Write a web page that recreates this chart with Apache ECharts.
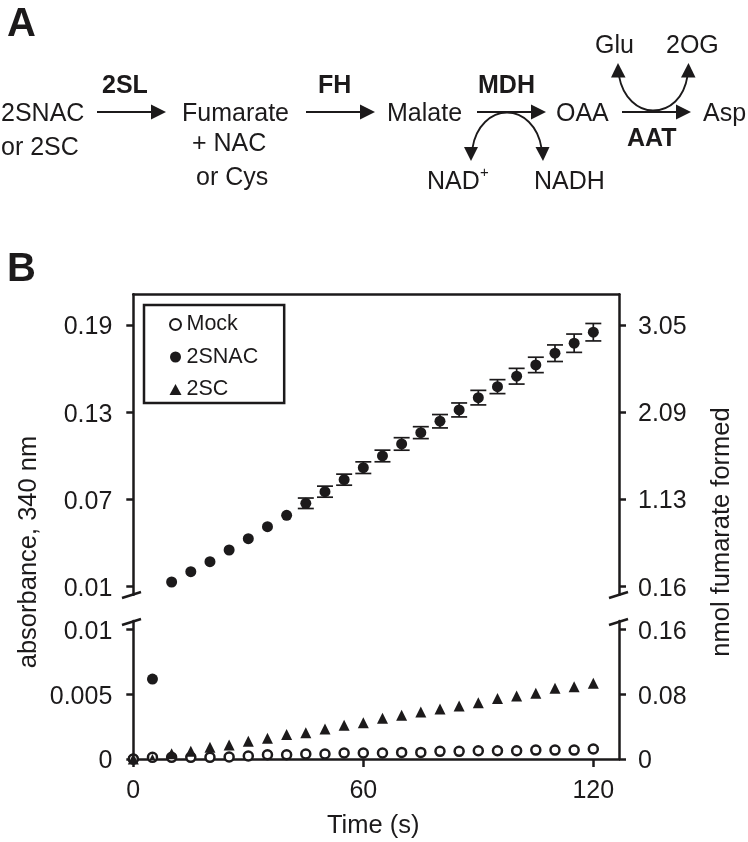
<!DOCTYPE html>
<html>
<head>
<meta charset="utf-8">
<style>
  html, body { margin: 0; padding: 0; background: #fff; }
  #chart { width: 748px; height: 842px; }
</style>
<script src="https://cdn.jsdelivr.net/npm/echarts@6/dist/echarts.min.js"></script>
</head>
<body>
<div id="chart"></div>
<script>
const FONT = '"Liberation Sans", Arial, sans-serif'
const INK = '#1c1a1b'

// time in seconds, one reading every 5 s
const times = [0, 5, 10, 15, 20, 25, 30, 35, 40, 45, 50, 55, 60, 65, 70, 75, 80, 85, 90, 95, 100, 105, 110, 115, 120]
const mock = [0, 0.00013, 0.00013, 0.00013, 0.00013, 0.00015, 0.00023, 0.00033, 0.00033, 0.00039, 0.00039, 0.00046, 0.00046,
  0.00046, 0.00051, 0.00051, 0.00059, 0.00059, 0.00064, 0.00064, 0.00064, 0.00069, 0.00069, 0.00069, 0.00077]
const snac = [0, 0.00617, 0.01323, 0.02032, 0.0272, 0.03525, 0.04302, 0.05128, 0.05912, 0.06738, 0.07536, 0.08362, 0.09187,
  0.09992, 0.10818, 0.11595, 0.1238, 0.13157, 0.14003, 0.1476, 0.15476, 0.16253, 0.17058, 0.17746, 0.18503]
const sc = [0, 0.00015, 0.0004, 0.0006, 0.0009, 0.00108, 0.00137, 0.0016, 0.0019, 0.00203, 0.00232, 0.0026, 0.0028,
  0.00314, 0.00337, 0.00363, 0.00386, 0.00409, 0.00435, 0.00466, 0.00486, 0.00507, 0.00546, 0.00558, 0.00584]
// +/- on the 2SNAC readings, no bars are visible before 45 s
const snacErr = [0, 0, 0, 0, 0, 0, 0, 0, 0, 0.0036, 0.0038, 0.0038, 0.004,
  0.004, 0.0043, 0.0041, 0.0046, 0.0048, 0.005, 0.0048, 0.0054, 0.0053, 0.0057, 0.0063, 0.006]

const xTicks = [0, 60, 120]
const upperLeftTicks = [0.01, 0.07, 0.13, 0.19]
const upperRightTicks = [0.16, 1.13, 2.09, 3.05]
const lowerLeftTicks = [0, 0.005, 0.01]
const lowerRightTicks = [0, 0.08, 0.16]

const upperRange = [0.0045, 0.2111]
const upperRightRange = [0.0717, 3.3897]
const lowerRange = [0, 0.01065]
const lowerRightRange = [0, 0.1704]
const xMax = 126.7

const pairs = (ys) => times.map((t, i) => [t, ys[i]])
const snacAll = pairs(snac)
// readings go to whichever side of the axis break they belong
const snacUpper = snacAll.filter(d => d[1] > lowerRange[1])
const snacLower = snacAll.filter(d => d[1] <= lowerRange[1])
const errRows = times.map((t, i) => [t, snac[i], snacErr[i]]).filter(d => d[2] > 0)

// panel A and the other annotation pieces
function text(str, x, baseline, size, bold, extra) {
  return {
    type: 'text',
    x: x,
    y: baseline,
    silent: true,
    style: Object.assign({
      text: str,
      font: (bold ? 'bold ' : '') + size + 'px ' + FONT,
      fill: INK,
      textAlign: 'left',
      textVerticalAlign: 'bottom'
    }, extra || {})
  }
}
// the text box bottom sits a little under the baseline
const t = (str, x, base, size, bold) => text(str, x, base + size * 0.212, size, bold)

function stroke(shapeType, shape, width) {
  return { type: shapeType, shape: shape, silent: true, style: { stroke: INK, lineWidth: width || 1.8, fill: null } }
}
function head(tip, a, b) {
  return { type: 'polygon', shape: { points: [tip, a, b] }, silent: true, style: { fill: INK } }
}
function arrow(x1, x2, y) {
  return [
    stroke('line', { x1: x1, y1: y, x2: x2 - 12, y2: y }),
    head([x2, y], [x2 - 15, y - 7.5], [x2 - 15, y + 7.5])
  ]
}
function curve(p) {
  return stroke('bezierCurve', { x1: p[0], y1: p[1], cpx1: p[2], cpy1: p[3], cpx2: p[4], cpy2: p[5], x2: p[6], y2: p[7] })
}

const size = 25
const graphics = [
  t('A', 7, 36, 40, true),
  t('B', 7, 281, 40, true),
  t('2SNAC', 1, 121, size),
  t('or 2SC', 1, 155, size),
  t('Fumarate', 182, 121, size),
  t('+ NAC', 192, 151, size),
  t('or Cys', 196, 185, size),
  t('Malate', 387, 121, size),
  t('OAA', 556, 121, size),
  t('Asp', 703, 121, size),
  t('Glu', 595, 53, size),
  t('2OG', 666, 53, size),
  t('NAD', 427, 189, size),
  t('+', 480, 177, 15),
  t('NADH', 534, 189, size),
  t('2SL', 102, 93, size, true),
  t('FH', 318, 93, size, true),
  t('MDH', 478, 93, size, true),
  t('AAT', 627, 146, size, true),
  ...arrow(97, 166, 112),
  ...arrow(306, 375, 112),
  ...arrow(477, 546, 112),
  ...arrow(622, 691, 112),
  curve([472.5, 148, 476, 126, 491, 112.5, 507, 112.5]),
  curve([507, 112.5, 523, 112.5, 538, 126, 541.5, 148]),
  head([471, 161], [464, 147], [478, 147]),
  head([543, 161], [535.5, 147], [549.5, 147]),
  curve([619, 76, 623, 98, 638, 110.5, 653, 110.5]),
  curve([653, 110.5, 670, 110.5, 684, 98, 687.5, 76]),
  head([618, 63], [611, 77.5], [625.5, 77.5]),
  head([688.5, 63], [681, 77.5], [695.5, 77.5]),
  // axis break marks
  stroke('line', { x1: 122, y1: 598, x2: 141, y2: 592 }, 2.4),
  stroke('line', { x1: 122, y1: 625, x2: 141, y2: 619 }, 2.4),
  stroke('line', { x1: 609, y1: 598, x2: 628, y2: 592 }, 2.4),
  stroke('line', { x1: 609, y1: 625, x2: 628, y2: 619 }, 2.4),
  // the two y titles run across both panels
  Object.assign(text('absorbance, 340 nm', 29, 552, 25.5, false, { textAlign: 'center', textVerticalAlign: 'middle' }), { rotation: Math.PI / 2 }),
  Object.assign(text('nmol fumarate formed', 722, 532, 25.5, false, { textAlign: 'center', textVerticalAlign: 'middle' }), { rotation: Math.PI / 2 })
]

function yAxis(gridIndex, position, range, ticks, margin) {
  return {
    type: 'value',
    gridIndex: gridIndex,
    position: position,
    min: range[0],
    max: range[1],
    splitLine: { show: false },
    axisLine: { show: true, onZero: false, lineStyle: { color: INK, width: 2.5 } },
    axisTick: { show: true, length: 7, customValues: ticks, lineStyle: { color: INK, width: 2.5 } },
    // top align with a short line box drops the digits level with the tick
    axisLabel: { customValues: ticks, margin: margin, color: INK, fontFamily: FONT, fontSize: 25, verticalAlign: 'top', lineHeight: 5 }
  }
}

function scatter(name, xi, yi, data, symbol, symbolSize, itemStyle, z) {
  return {
    name: name,
    type: 'scatter',
    xAxisIndex: xi,
    yAxisIndex: yi,
    data: data,
    symbol: symbol,
    symbolSize: symbolSize,
    itemStyle: itemStyle,
    z: z,
    clip: false,
    animation: false
  }
}

function renderErrorBar(params, api) {
  const x = api.value(0)
  const y = api.value(1)
  const e = api.value(2)
  const hi = api.coord([x, y + e])
  const lo = api.coord([x, y - e])
  const capHalf = 8
  const line = (x1, y1, x2, y2) => ({
    type: 'line',
    shape: { x1: x1, y1: y1, x2: x2, y2: y2 },
    style: { stroke: INK, lineWidth: 1.7 }
  })
  return {
    type: 'group',
    children: [
      line(hi[0], hi[1], lo[0], lo[1]),
      line(hi[0] - capHalf, hi[1], hi[0] + capHalf, hi[1]),
      line(lo[0] - capHalf, lo[1], lo[0] + capHalf, lo[1])
    ]
  }
}

const filled = { color: INK, opacity: 1 }
const open = { color: '#fff', borderColor: INK, borderWidth: 2.5, opacity: 1 }

const chart = echarts.init(document.getElementById('chart'), null, { renderer: 'canvas' })
chart.setOption({
  animation: false,
  backgroundColor: '#fff',
  textStyle: { fontFamily: FONT },
  graphic: graphics,
  legend: {
    left: 144,
    top: 305,
    orient: 'vertical',
    selectedMode: false,
    padding: [7, 26, 1, 25],
    itemWidth: 12,
    itemHeight: 11,
    itemGap: 7.5,
    borderColor: INK,
    borderWidth: 2.5,
    backgroundColor: '#fff',
    textStyle: { color: INK, fontFamily: FONT, fontSize: 21.5, lineHeight: 25, padding: [0, 0, 0, 0] },
    data: ['Mock', '2SNAC', '2SC']
  },
  grid: [
    { left: 133.3, width: 485.7, top: 294.3, height: 300.4 },
    { left: 133.3, width: 485.7, top: 621, height: 138 }
  ],
  xAxis: [
    {
      type: 'value',
      gridIndex: 0,
      position: 'top',
      min: 0,
      max: xMax,
      splitLine: { show: false },
      axisLine: { show: true, onZero: false, lineStyle: { color: INK, width: 2.5 } },
      axisTick: { show: false },
      axisLabel: { show: false }
    },
    {
      type: 'value',
      gridIndex: 1,
      position: 'bottom',
      min: 0,
      max: xMax,
      name: 'Time (s)',
      nameLocation: 'middle',
      nameGap: 54,
      nameTextStyle: { color: INK, fontFamily: FONT, fontSize: 25.5, padding: [0, 6, 0, 0] },
      splitLine: { show: false },
      axisLine: { show: true, onZero: false, lineStyle: { color: INK, width: 2.5 } },
      axisTick: { show: true, length: 8, customValues: xTicks, lineStyle: { color: INK, width: 2.5 } },
      axisLabel: { customValues: xTicks, margin: 20, color: INK, fontFamily: FONT, fontSize: 25 }
    }
  ],
  yAxis: [
    yAxis(0, 'left', upperRange, upperLeftTicks, 21),
    yAxis(0, 'right', upperRightRange, upperRightTicks, 19),
    yAxis(1, 'left', lowerRange, lowerLeftTicks, 21),
    yAxis(1, 'right', lowerRightRange, lowerRightTicks, 19)
  ],
  series: [
    {
      type: 'custom',
      xAxisIndex: 0,
      yAxisIndex: 0,
      data: errRows,
      encode: { x: 0, y: 1 },
      renderItem: renderErrorBar,
      z: 2,
      animation: false
    },
    scatter('2SNAC', 0, 0, snacUpper, 'circle', 11, filled, 3),
    scatter('2SNAC', 1, 2, snacLower, 'circle', 11, filled, 3),
    scatter('Mock', 1, 2, pairs(mock), 'circle', 9, open, 4),
    // the reading at 5 s sits inside the ring at a smaller size
    scatter('2SC', 1, 2, pairs(sc), 'triangle', (v, p) => (p.dataIndex === 1 ? 6 : 11), filled, 5)
  ]
})
</script>
</body>
</html>
